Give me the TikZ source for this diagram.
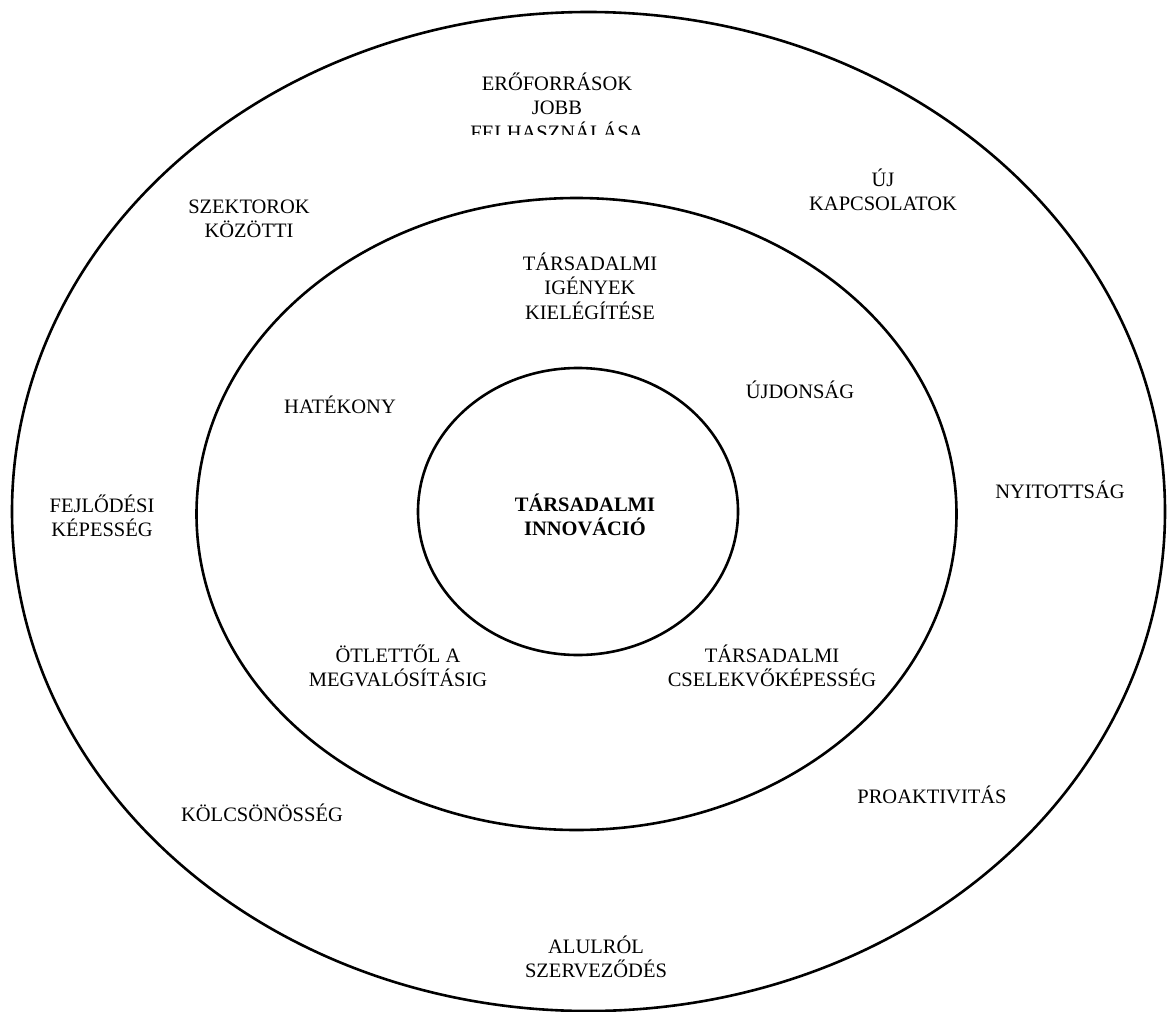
\documentclass[tikz,border=0pt]{standalone}
\usepackage{fontspec}
\setmainfont{Liberation Serif}
\usepackage{tikz}

\tikzset{
  ring/.style={line width=2.6pt},
  label/.style={align=center, inner sep=0pt, font=\fontsize{20.5}{24.5}\selectfont},
  core/.style={label, font=\fontsize{20.5}{23.5}\selectfont\bfseries}
}

\begin{document}
\begin{tikzpicture}[x=1pt, y=-1pt]
    \useasboundingbox (0,0) rectangle (1168,1012);

    % Rings
    \draw[ring] (588.5,511.5) ellipse [x radius=576.5, y radius=499.5];
    \draw[ring] (576.5,514) ellipse [x radius=380, y radius=316];
    \draw[ring] (578,511.5) ellipse [x radius=160, y radius=143.5];

    % Centre
    \node[core] (innov) at (585,515) {TÁRSADALMI\\INNOVÁCIÓ};

    % Middle ring
    \node[label] (igeny) at (590,286) {TÁRSADALMI\\IGÉNYEK\\KIELÉGÍTÉSE};
    \node[label] (hatek) at (340,405) {HATÉKONY};
    \node[label] (ujdon) at (800,390) {ÚJDONSÁG};
    \node[label] (otlet) at (398,666) {ÖTLETTŐL A\\MEGVALÓSÍTÁSIG};
    \node[label] (cselek) at (772,666) {TÁRSADALMI\\CSELEKVŐKÉPESSÉG};

    % Outer ring
    \begin{scope}
      \clip (0,0) rectangle (1168,134);
      \node[label] (eroforr) at (557,106) {ERŐFORRÁSOK\\JOBB\\FELHASZNÁLÁSA};
    \end{scope}
    \node[label] (ujkapcs) at (883,190) {ÚJ\\KAPCSOLATOK};
    \node[label] (szekt) at (249,219) {SZEKTOROK\\KÖZÖTTI};
    \node[label] (fejl) at (102,516) {FEJLŐDÉSI\\KÉPESSÉG};
    \node[label] (nyit) at (1060,490) {NYITOTTSÁG};
    \node[label] (proakt) at (932,795) {PROAKTIVITÁS};
    \node[label] (kolcs) at (262,813) {KÖLCSÖNÖSSÉG};
    \node[label] (alul) at (596,957) {ALULRÓL\\SZERVEZŐDÉS};

\end{tikzpicture}
\end{document}
